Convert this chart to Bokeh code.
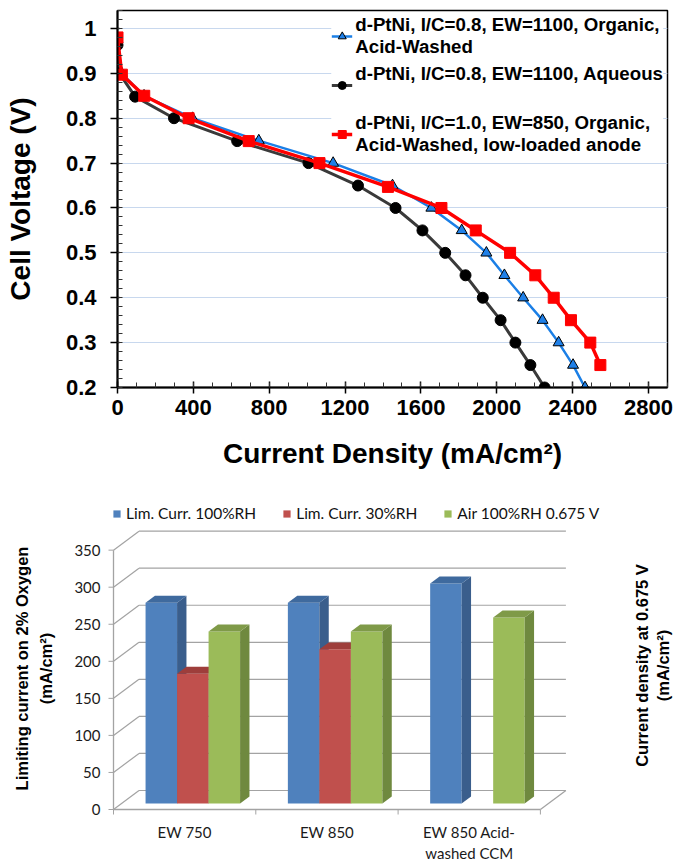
import math
from bokeh.plotting import figure
from bokeh.models import Range1d, FixedTicker, Legend, LegendItem, Label
from bokeh.embed import file_html
from bokeh.resources import INLINE
from bokeh.core.properties import value

# ---------------- top chart data (polarisation curves) ----------------
cur_blue = [0, 22, 140, 396, 745, 1137, 1450, 1655, 1815, 1945, 2040, 2139, 2241, 2326, 2402, 2465]
v_blue = [0.975, 0.90, 0.85, 0.80, 0.75, 0.70, 0.65, 0.60, 0.55, 0.50, 0.45, 0.40, 0.35, 0.30, 0.25, 0.20]
cur_black = [0, 10, 93, 298, 631, 1007, 1268, 1466, 1608, 1728, 1835, 1926, 2020, 2098, 2177, 2252]
v_black = [0.963, 0.90, 0.848, 0.80, 0.749, 0.70, 0.65, 0.60, 0.55, 0.50, 0.45, 0.40, 0.35, 0.30, 0.25, 0.20]
cur_red = [0, 23, 141, 375, 692, 1065, 1426, 1708, 1889, 2070, 2203, 2300, 2391, 2493, 2546]
v_red = [0.98, 0.897, 0.85, 0.80, 0.749, 0.70, 0.647, 0.60, 0.55, 0.50, 0.45, 0.40, 0.35, 0.30, 0.25]

label_blue = "d-PtNi, I/C=0.8, EW=1100, Organic,\nAcid-Washed"
label_black = "d-PtNi, I/C=0.8, EW=1100, Aqueous\n "
label_red = "d-PtNi, I/C=1.0, EW=850, Organic,\nAcid-Washed, low-loaded anode"

x_ticks = [0, 400, 800, 1200, 1600, 2000, 2400, 2800]
y_ticks = [0.2, 0.3, 0.4, 0.5, 0.6, 0.7, 0.8, 0.9, 1.0]
y_tick_labels = ["0.2", "0.3", "0.4", "0.5", "0.6", "0.7", "0.8", "0.9", "1"]

# ---------------- bottom chart data (3D columns) ----------------
categories = ["EW 750", "EW 850", "EW 850 Acid-\nwashed CCM"]
series_names = ["Lim. Curr. 100%RH", "Lim. Curr. 30%RH", "Air 100%RH 0.675 V"]
lim_100rh = [271, 271, 297]
lim_30rh = [175, 208, None]
air_100rh = [232, 232, 251]
val_ticks = [0, 50, 100, 150, 200, 250, 300, 350]

FONT = "Liberation Sans"
SMALL = "Lato"

# ======================= TOP FIGURE =======================
p1 = figure(width=674, height=480, x_range=Range1d(0, 2900), y_range=Range1d(0.2, 1.04),
            output_backend="svg", toolbar_location=None,
            min_border_left=117, min_border_right=7, min_border_top=10, min_border_bottom=93)
p1.background_fill_color = "white"
p1.border_fill_color = "white"
p1.outline_line_color = "black"
p1.outline_line_width = 1.5
p1.xgrid.visible = False
p1.ygrid.grid_line_color = "#c8d8ee"
p1.ygrid.grid_line_width = 1

p1.xaxis.ticker = FixedTicker(ticks=x_ticks, minor_ticks=list(range(0, 2901, 100)))
p1.yaxis.ticker = FixedTicker(ticks=y_ticks, minor_ticks=[round(0.2 + 0.02 * i, 2) for i in range(43)])
p1.yaxis.major_label_overrides = dict(zip(y_ticks, y_tick_labels))
p1.xaxis.axis_label = "Current Density (mA/cm\u00b2)"
p1.yaxis.axis_label = "Cell Voltage (V)"

for ax in (p1.xaxis[0], p1.yaxis[0]):
    ax.axis_line_color = "black"
    ax.axis_line_width = 2
    ax.major_tick_line_color = "black"
    ax.major_tick_line_width = 1.5
    ax.minor_tick_line_color = "#333333"
    ax.minor_tick_line_width = 1
    ax.major_label_text_font = FONT
    ax.major_label_text_font_style = "bold"
    ax.major_label_text_font_size = "22px"
    ax.major_label_text_color = "black"
    ax.axis_label_text_font = FONT
    ax.axis_label_text_font_style = "bold"
    ax.axis_label_text_font_size = "28px"
    ax.axis_label_text_color = "black"

p1.xaxis.major_tick_in = 6
p1.xaxis.major_tick_out = 6
p1.xaxis.minor_tick_in = 5
p1.xaxis.minor_tick_out = 0
p1.xaxis.major_label_standoff = 6
p1.xaxis.axis_label_standoff = 20
p1.yaxis.major_tick_in = 2
p1.yaxis.major_tick_out = 7
p1.yaxis.minor_tick_in = 5
p1.yaxis.minor_tick_out = 0
p1.yaxis.major_label_standoff = 14
p1.yaxis.axis_label_standoff = 27

l_black = p1.line(cur_black, v_black, line_color="#3a3a3a", line_width=3)
s_black = p1.scatter(cur_black, v_black, marker="circle", size=11, fill_color="black", line_color="black")
l_blue = p1.line(cur_blue, v_blue, line_color="#1b7fe6", line_width=2.5)
s_blue = p1.scatter(cur_blue, v_blue, marker="triangle", size=11, fill_color="#1f80e8", line_color="black", line_width=1)
l_red = p1.line(cur_red, v_red, line_color="#ff0000", line_width=3.5)
s_red = p1.scatter(cur_red, v_red, marker="square", size=11, fill_color="#ff0000", line_color="#ff0000")

leg1 = Legend(items=[LegendItem(label=label_blue, renderers=[l_blue, s_blue]),
                     LegendItem(label=label_black, renderers=[l_black, s_black]),
                     LegendItem(label=label_red, renderers=[l_red, s_red])],
              location="top_right", margin=4, padding=9, spacing=5,
              glyph_width=21, glyph_height=20, label_height=20, label_standoff=3,
              label_text_font=FONT, label_text_font_style="bold", label_text_font_size="18.7px",
              label_text_line_height=1.07, label_text_color="black",
              border_line_color=None, background_fill_color="white", background_fill_alpha=1)
p1.add_layout(leg1)

# ======================= BOTTOM FIGURE (3D columns) =======================
W2, H2 = 674, 381
PX_CAT = 142.3          # pixels per category slot
PX_VAL = 0.741          # pixels per value unit
ORIG_X, ORIG_Y = 113, 52  # front-left floor corner, px from figure bottom-left
DX = 25.5 / PX_CAT      # full depth offset (category units)
DY = 19.0 / PX_VAL      # full depth offset (value units)
D0, D1 = 0.316, 0.684   # depth of bar front / back
GAP, BW = 0.1687, 0.2214

p2 = figure(width=W2, height=H2,
            x_range=Range1d(-ORIG_X / PX_CAT, (W2 - ORIG_X) / PX_CAT),
            y_range=Range1d(-ORIG_Y / PX_VAL, (H2 - ORIG_Y) / PX_VAL),
            output_backend="svg", toolbar_location=None,
            min_border=0, min_border_left=0, min_border_right=0, min_border_top=0, min_border_bottom=0,
            x_axis_location=None, y_axis_location=None)
p2.grid.visible = False
p2.outline_line_color = None
p2.background_fill_color = "white"
p2.border_fill_color = "white"

ncat = len(categories)
vmax = val_ticks[-1]
GRID = "#a3a3a3"
# back wall gridlines
p2.segment(x0=[DX] * len(val_ticks), y0=[v + DY for v in val_ticks],
           x1=[ncat + DX] * len(val_ticks), y1=[v + DY for v in val_ticks],
           line_color=GRID, line_width=1.2)
# side wall diagonals
p2.segment(x0=[0] * len(val_ticks), y0=val_ticks,
           x1=[DX] * len(val_ticks), y1=[v + DY for v in val_ticks],
           line_color=GRID, line_width=1.2)
# floor front and right edges
p2.segment(x0=[0, ncat], y0=[0, 0], x1=[ncat, ncat + DX], y1=[0, DY], line_color=GRID, line_width=1.3)
# value axis line + ticks
p2.segment(x0=[0], y0=[0], x1=[0], y1=[vmax], line_color=GRID, line_width=1.3)
p2.segment(x0=[0] * len(val_ticks), y0=val_ticks, x1=[-5 / PX_CAT] * len(val_ticks), y1=val_ticks,
           line_color=GRID, line_width=1)
# category ticks
p2.segment(x0=list(range(ncat + 1)), y0=[0] * (ncat + 1), x1=list(range(ncat + 1)),
           y1=[-5 / PX_VAL] * (ncat + 1), line_color=GRID, line_width=1)

fronts = ["#4F81BD", "#C0504D", "#9BBB59"]
sides = ["#3A5E8C", "#8C3836", "#6F893F"]
tops = ["#3F6A9E", "#9E3E3B", "#7F9A48"]
legend_items = []
for j, vals in enumerate([lim_100rh, lim_30rh, air_100rh]):
    L, R, B, T, sx, sy, tx, ty = [], [], [], [], [], [], [], []
    for i, v in enumerate(vals):
        if v is None:
            continue
        x0 = i + GAP + j * BW
        x1 = x0 + BW
        L.append(x0 + D0 * DX); R.append(x1 + D0 * DX)
        B.append(D0 * DY); T.append(v + D0 * DY)
        sx.append([x1 + D0 * DX, x1 + D1 * DX, x1 + D1 * DX, x1 + D0 * DX])
        sy.append([D0 * DY, D1 * DY, v + D1 * DY, v + D0 * DY])
        tx.append([x0 + D0 * DX, x1 + D0 * DX, x1 + D1 * DX, x0 + D1 * DX])
        ty.append([v + D0 * DY, v + D0 * DY, v + D1 * DY, v + D1 * DY])
    rf = p2.quad(left=L, right=R, bottom=B, top=T, fill_color=fronts[j], line_color=None)
    p2.patches(sx, sy, fill_color=sides[j], line_color=None)
    p2.patches(tx, ty, fill_color=tops[j], line_color=None)
    legend_items.append(LegendItem(label=series_names[j], renderers=[rf]))

# value tick labels
p2.text(x=[0] * len(val_ticks), y=val_ticks, text=[str(v) for v in val_ticks],
        text_align="right", text_baseline="middle", x_offset=-13,
        text_font=value(SMALL), text_font_size=value("15px"), text_color="#1a1a1a")
# category labels
p2.text(x=[i + 0.5 for i in range(ncat)], y=[0] * ncat, text=categories,
        text_align="center", text_baseline="top", y_offset=13, text_line_height=1.2,
        text_font=value(SMALL), text_font_size=value("15px"), text_color="#1a1a1a")

leg2 = Legend(items=legend_items, orientation="horizontal", location=(112, 339),
              padding=0, margin=0, spacing=26, glyph_width=9, glyph_height=9,
              label_height=9, label_standoff=5,
              label_text_font=SMALL, label_text_font_size="15.5px", label_text_color="#111111",
              border_line_color=None, background_fill_alpha=0)
p2.add_layout(leg2)

for txt, xs in zip(["Limiting current on 2% Oxygen", "(mA/cm\u00b2)"], [21, 45]):
    p2.add_layout(Label(x=xs, y=193, x_units="screen", y_units="screen", text=txt, angle=math.pi / 2,
                        text_align="center", text_baseline="middle", text_font=FONT,
                        text_font_style="bold", text_font_size="16.5px", text_color="black"))
for txt, xs in zip(["Current density at 0.675 V", "(mA/cm\u00b2)"], [641, 662]):
    p2.add_layout(Label(x=xs, y=196, x_units="screen", y_units="screen", text=txt, angle=math.pi / 2,
                        text_align="center", text_baseline="middle", text_font=FONT,
                        text_font_style="bold", text_font_size="16.5px", text_color="black"))

open("out.html", "w").write(file_html([p1, p2], INLINE))
